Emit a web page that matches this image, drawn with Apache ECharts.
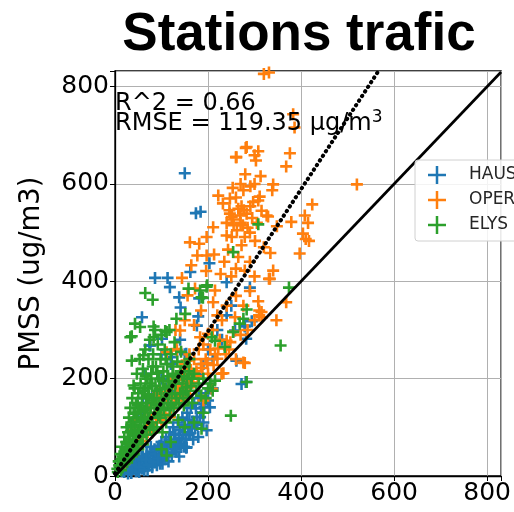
<!DOCTYPE html>
<html>
<head>
<meta charset="utf-8">
<script src="https://cdn.jsdelivr.net/npm/echarts@6/dist/echarts.min.js"></script>
<style>html,body{margin:0;padding:0;background:#fff}#c{width:514px;height:512px}</style>
</head>
<body>
<div id="c"></div>
<script>
const titleText = 'Stations trafic';
const yAxisName = 'PMSS (ug/m3)';
const stationNames = ['HAUS', 'OPERA', 'ELYS'];
const stationColors = ['#1f77b4', '#ff7f0e', '#2ca02c'];
const tickValues = [0, 200, 400, 600, 800];
const statR2 = '0.66';
const statRMSE = '119.35';
const identityLine = [[0, 0], [830, 830]];
const fitLine = [[0, 5], [565, 830]];

const hausData = [
[15,10],[20,8],[25,15],[30,12],[32,20],[35,6],[38,25],[40,15],[42,30],[45,10],[47,11],[48,20],[50,35],[52,8],[55,25],[58,15],[60,40],[62,30],[65,20],[68,45],[70,12],[72,35],[75,28],[78,50],[80,18],[82,40],[85,55],[88,30],[90,22],[92,60],[95,45],[97,25],[98,35],[100,70],[102,25],[105,50],[108,40],[110,80],[112,60],[115,30],[118,90],[120,70],[122,45],[125,100],[128,55],[130,85],[133,65],[135,110],[138,40],[140,95],[143,75],[145,120],[148,60],[150,105],[153,58],[154,59],[155,130],[158,85],[160,115],[163,140],[165,100],[168,75],[170,150],[174,139],[176,121],[179,80],[180,160],[183,121],[186,148],[190,110],[195,170],[197,94],[204,141],[210,180],[281,193],[272,189],
[22,18],[28,5],[36,14],[44,22],[52,18],[57,40],[63,12],[67,33],[73,22],[77,60],[83,28],[87,45],[93,36],[96,62],[103,44],[107,65],[113,48],[117,75],[123,60],[127,85],[132,50],[137,78],[142,64],[147,90],[152,75],[157,98],[162,88],[167,112],[172,98],[177,105],[185,130],[192,142],[200,155],
[30,60],[45,90],[60,120],[70,150],[76,268],[58,326],[86,407],[113,407],[118,388],[138,367],[141,346],[162,419],[203,437],[181,365],[179,328],[176,309],[150,622],[174,540],[184,543],[290,387],[279,307],[294,318],[282,282],[240,398],[261,237],[258,299],[279,309],[101,282],[74,268],[122,244],[153,251],[151,186],[100,200],[120,230],[90,170],[110,180],[130,200],[150,250],[160,190],[50,130],[65,210],[200,260],[220,300],[240,330],[230,280],[250,350],[100,250],[140,280],[60,160],[80,110],[95,140],[115,150],[135,175],[155,165],[175,210],[190,230],[210,240]
];

const operaData = [
[20,25],[30,40],[35,60],[40,94],[43,113],[50,70],[55,95],[60,80],[65,120],[70,100],[75,140],[80,90],[85,160],[90,130],[93,172],[97,172],[100,115],[105,150],[111,162],[111,254],[115,180],[118,121],[120,140],[125,200],[130,165],[132,261],[133,258],[135,190],[140,299],[140,210],[144,176],[144,207],[145,155],[150,230],[154,237],[155,185],[158,220],[160,250],[161,183],[165,200],[170,240],[175,215],[180,260],[183,285],[185,230],[190,155],[190,270],[195,240],[200,292],[200,210],[205,260],[208,179],[210,300],[215,250],[220,241],[225,280],[229,210],[233,211],[240,278],[245,260],[254,296],[260,240],[270,290],[276,233],[279,232],[285,300],[300,320],[310,340],
[45,62],[58,72],[68,95],[78,118],[88,110],[95,150],[108,128],[112,170],[122,165],[128,148],[138,182],[148,198],[152,168],[163,218],[168,192],[178,205],[188,222],[198,232],[212,228],[222,262],[238,250],[248,275],
[144,407],[156,371],[164,433],[172,385],[177,453],[197,453],[213,455],[196,421],[211,357],[215,381],[260,426],[279,422],[340,422],[333,405],[276,350],[308,359],[316,326],[347,320],[258,326],[161,480],[181,477],[197,491],[211,511],[240,494],[243,465],[251,491],[272,474],[279,491],[301,483],[326,535],[334,458],[379,522],[397,457],[404,498],[408,535],[410,487],[415,520],[417,483],[424,558],[368,357],[331,405],[315,337],[310,330],[227,415],[235,440],[250,410],[265,450],[290,440],[300,410],[320,470],[290,380],[260,370],[240,350],[230,320],[220,330],[185,340],[170,310],[150,320],[130,300],
[246,546],[247,539],[251,532],[253,592],[254,527],[260,572],[261,655],[265,549],[269,535],[270,520],[272,554],[276,587],[277,546],[283,539],[283,676],[291,595],[291,554],[297,563],[303,648],[308,667],[308,566],[311,574],[313,616],[222,576],[247,570],[329,533],[338,587],[340,599],[348,513],[368,636],[376,663],[383,743],[386,716],[320,826],[331,829],[520,599],[300,659],[281,674],[260,655],[232,560],[285,510],[295,530],[262,505],[275,515],[290,500],[305,520],[315,545],[255,515],[240,520],[300,600],[280,620],[270,600]
];

const elysData = [
[5,15],[8,30],[10,20],[12,45],[14,35],[15,60],[18,25],[20,50],[20,80],[22,40],[24,70],[25,100],[27,55],[28,90],[30,35],[30,120],[32,75],[33,140],[35,60],[35,105],[37,160],[38,85],[40,45],[40,130],[42,180],[43,100],[45,70],[45,150],[47,210],[48,120],[50,55],[50,95],[50,170],[52,140],[53,240],[55,80],[55,190],[57,115],[58,160],[60,65],[60,220],[62,135],[63,100],[65,180],[65,260],[67,150],[68,85],[70,200],[70,120],[72,240],[73,165],[75,95],[75,280],[77,140],[78,210],[80,110],[80,185],[82,250],[84,160],[85,130],[86,300],[88,225],[90,100],[90,175],[92,270],[94,145],[95,200],[97,120],[98,240],[100,160],[100,290],[102,90],[104,215],[105,135],[107,260],[108,180],[110,110],[112,230],[114,150],[115,195],[117,300],[118,125],[120,250],[122,170],[124,210],[126,140],[128,275],[130,190],[132,160],[134,235],[136,115],[138,205],[140,170],[142,255],[145,190],[148,145],[150,225],[152,175],[155,200],[158,160],[160,240],[163,185],[166,150],[170,210],[175,175],[180,190],[185,165],[190,200],[195,160],[200,180],[205,190],[210,175],
[6,8],[9,22],[13,12],[16,40],[19,33],[23,58],[26,28],[29,66],[31,48],[34,92],[36,40],[39,110],[41,72],[44,128],[46,58],[49,145],[51,88],[54,112],[56,132],[59,92],[61,175],[64,118],[66,205],[69,140],[71,168],[74,120],[76,190],[79,155],[81,225],[83,95],[87,185],[89,148],[91,212],[93,125],[96,178],[99,140],[103,195],[106,160],[109,240],[113,205],[116,168],[119,185],[121,145],[125,225],[129,170],[133,205],[137,150],[141,215],[146,168],[149,205],[154,182],[159,215],[165,200],
[100,55],[111,42],[120,70],[150,100],[170,110],[186,97],[190,130],[215,196],
[36,287],[65,376],[81,362],[83,307],[54,306],[111,296],[158,385],[186,367],[132,323],[151,333],[83,285],[36,237],[61,248],[40,186],[208,285],[215,278],[236,265],[276,323],[283,342],[254,296],[183,381],[198,392],[268,313],[254,460],[374,387],[356,268],[283,193],[249,124],[308,517],[33,285],[43,313],[108,298],[189,366],[197,389]
];

const seriesData = [hausData, operaData, elysData];

const plusSymbol = 'path://M4.7,0H7.3V4.7H12V7.3H7.3V12H4.7V7.3H0V4.7H4.7Z';
const plusLegend = 'path://M7.75,0H10.25V7.75H18V10.25H10.25V18H7.75V10.25H0V7.75H7.75Z';

const chart = echarts.init(document.getElementById('c'), null, {renderer: 'canvas'});
const FONT = 'DejaVu Sans';

const scatterSeries = stationNames.map((name, i) => ({
  name: name,
  type: 'scatter',
  data: seriesData[i],
  symbol: plusSymbol,
  symbolSize: 12,
  itemStyle: {color: stationColors[i], opacity: 1},
  emphasis: {disabled: true},
  z: 2
}));

const option = {
  animation: false,
  backgroundColor: '#fff',
  title: {
    text: titleText,
    left: 294, top: 4, textAlign: 'center',
    textStyle: {fontFamily: 'Liberation Sans', fontWeight: 'bold', fontSize: 53, color: '#000'}
  },
  grid: {left: 115, top: 71, width: 387, height: 405, show: true, borderColor: '#000', borderWidth: 1.3, backgroundColor: 'transparent', containLabel: false},
  legend: {
    orient: 'vertical', left: 415, top: 160,
    data: stationNames.map((n, i) => ({name: n, icon: plusLegend, itemStyle: {color: stationColors[i]}})),
    itemWidth: 18, itemHeight: 18, itemGap: 7,
    padding: [6, 10, 7, 13],
    backgroundColor: 'rgba(255,255,255,0.85)',
    borderColor: '#d0d0d0', borderWidth: 1, borderRadius: 3,
    textStyle: {fontFamily: FONT, fontSize: 17, color: '#262626', padding: [0, 0, 0, 18]}
  },
  xAxis: {
    type: 'value', min: 0, max: 830, interval: 200,
    axisLine: {show: true, lineStyle: {color: '#000', width: 1.3}},
    axisTick: {show: true, length: 5, lineStyle: {color: '#000', width: 1}},
    axisLabel: {fontFamily: FONT, fontSize: 25, color: '#000', margin: 5, showMaxLabel: true,
      formatter: v => tickValues.includes(v) ? String(v) : ''},
    splitLine: {show: true, lineStyle: {color: '#b0b0b0', width: 1}}
  },
  yAxis: {
    type: 'value', min: 0, max: 832, interval: 200,
    name: yAxisName, nameLocation: 'middle', nameGap: 69, nameRotate: 90,
    nameTextStyle: {fontFamily: FONT, fontSize: 27.5, color: '#000'},
    axisLine: {show: true, lineStyle: {color: '#000', width: 1.3}},
    axisTick: {show: true, length: 5, lineStyle: {color: '#000', width: 1}},
    axisLabel: {fontFamily: FONT, fontSize: 25, color: '#000', margin: 6,
      formatter: v => tickValues.includes(v) ? String(v) : ''},
    splitLine: {show: true, lineStyle: {color: '#b0b0b0', width: 1}}
  },
  series: scatterSeries.concat([
    {type: 'line', data: fitLine, showSymbol: false, symbol: 'none', silent: true, z: 3,
      lineStyle: {color: '#000', width: 4, type: [0.5, 5], cap: 'round'}},
    {type: 'line', data: identityLine, showSymbol: false, symbol: 'none', silent: true, z: 3,
      lineStyle: {color: '#000', width: 2.7}}
  ]),
  graphic: [
    {type: 'text', left: 115, top: 92, z: 10,
      style: {text: 'R^2 = ' + statR2, font: '24px "DejaVu Sans"', fill: '#000'}},
    {type: 'text', left: 115, top: 109, z: 10,
      style: {text: '{a|RMSE = ' + statRMSE + ' μg/m}{s|3}', fill: '#000',
        rich: {a: {fontFamily: FONT, fontSize: 24, color: '#000', verticalAlign: 'bottom'},
               s: {fontFamily: FONT, fontSize: 17, color: '#000', verticalAlign: 'top', padding: [0,0,10,0]}}}}
  ]
};
chart.setOption(option);
</script>
</body>
</html>
